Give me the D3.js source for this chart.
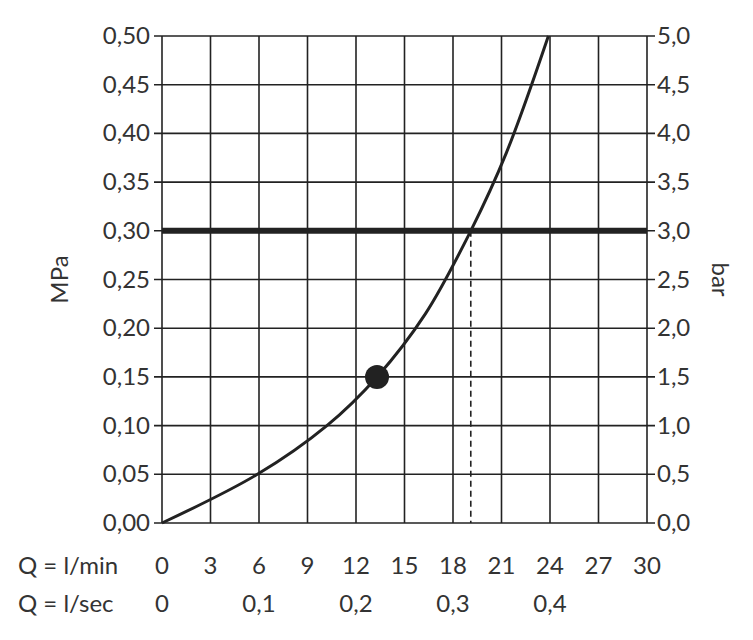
<!DOCTYPE html>
<html><head><meta charset="utf-8">
<script src="https://cdn.jsdelivr.net/npm/d3@7"></script>
<style>body{margin:0;background:#fff}text{font-family:Lato,"Open Sans",sans-serif;fill:#333}</style>
</head><body><div id="chart"></div>
<script>
// curve: flow (l/min) vs pressure (MPa)
const flowLmin = [0, 5.9, 10.2, 13.3, 16.3, 19.1, 21.3, 23.9];
const pressMPa = [0, 0.05, 0.10, 0.15, 0.215, 0.30, 0.38, 0.50];
const markFlow = 13.3, markPress = 0.15;
const limitPress = 0.30, limitFlow = 19.1;
const lminTicks = [0, 3, 6, 9, 12, 15, 18, 21, 24, 27, 30];
const lsecTicks = [[0, "0"], [6, "0,1"], [12, "0,2"], [18, "0,3"], [24, "0,4"]];
const mpaTicks = d3.range(0, 0.501, 0.05);

const W = 753, H = 640, L = 162, R = 647, T = 36, B = 523;
const svg = d3.select("#chart").append("svg").attr("width", W).attr("height", H);
const x = d3.scaleLinear().domain([0, 30]).range([L, R]);
const y = d3.scaleLinear().domain([0, 0.5]).range([B, T]);
const fmt = (v, d) => v.toFixed(d).replace(".", ",");

const g = svg.append("g");
g.selectAll(".vx").data(lminTicks).enter().append("line")
  .attr("x1", d => x(d)).attr("x2", d => x(d)).attr("y1", T).attr("y2", B)
  .attr("stroke", "#222").attr("stroke-width", 1.6);
g.selectAll(".hy").data(mpaTicks).enter().append("line")
  .attr("x1", L - 8).attr("x2", R + 8).attr("y1", d => y(d)).attr("y2", d => y(d))
  .attr("stroke", "#222").attr("stroke-width", 1.6);

// left and right labels
g.selectAll(".ly").data(mpaTicks).enter().append("text")
  .attr("x", L - 12).attr("y", d => y(d) + 8).attr("text-anchor", "end")
  .attr("font-size", 24).text(d => fmt(d, 2));
g.selectAll(".ry").data(mpaTicks).enter().append("text")
  .attr("x", R + 10).attr("y", d => y(d) + 8)
  .attr("font-size", 24).text(d => fmt(d * 10, 1));
svg.append("text").attr("transform", `translate(68,${(T + B) / 2}) rotate(-90)`)
  .attr("text-anchor", "middle").attr("font-size", 24).text("MPa");
svg.append("text").attr("transform", `translate(712,${(T + B) / 2}) rotate(90)`)
  .attr("text-anchor", "middle").attr("font-size", 24).text("bar");

// bottom labels
g.selectAll(".bx").data(lminTicks).enter().append("text")
  .attr("x", d => x(d)).attr("y", 574).attr("text-anchor", "middle")
  .attr("font-size", 24).text(d => d);
g.selectAll(".bs").data(lsecTicks).enter().append("text")
  .attr("x", d => x(d[0])).attr("y", 612).attr("text-anchor", "middle")
  .attr("font-size", 24).text(d => d[1]);
svg.append("text").attr("x", 18).attr("y", 574).attr("font-size", 24).text("Q = l/min");
svg.append("text").attr("x", 18).attr("y", 612).attr("font-size", 24).text("Q = l/sec");

// limit line and dashed drop
g.append("line").attr("x1", L).attr("x2", R).attr("y1", y(limitPress)).attr("y2", y(limitPress))
  .attr("stroke", "#222").attr("stroke-width", 6);
g.append("line").attr("x1", x(limitFlow)).attr("x2", x(limitFlow))
  .attr("y1", y(limitPress)).attr("y2", B)
  .attr("stroke", "#222").attr("stroke-width", 1.6).attr("stroke-dasharray", "6,4");

// curve
const pts = flowLmin.map((f, i) => [f, pressMPa[i]]);
g.append("path").datum(pts)
  .attr("d", d3.line().x(d => x(d[0])).y(d => y(d[1])).curve(d3.curveCatmullRom))
  .attr("fill", "none").attr("stroke", "#222").attr("stroke-width", 3);
g.append("circle").attr("cx", x(markFlow)).attr("cy", y(markPress)).attr("r", 12).attr("fill", "#222");
</script></body></html>
